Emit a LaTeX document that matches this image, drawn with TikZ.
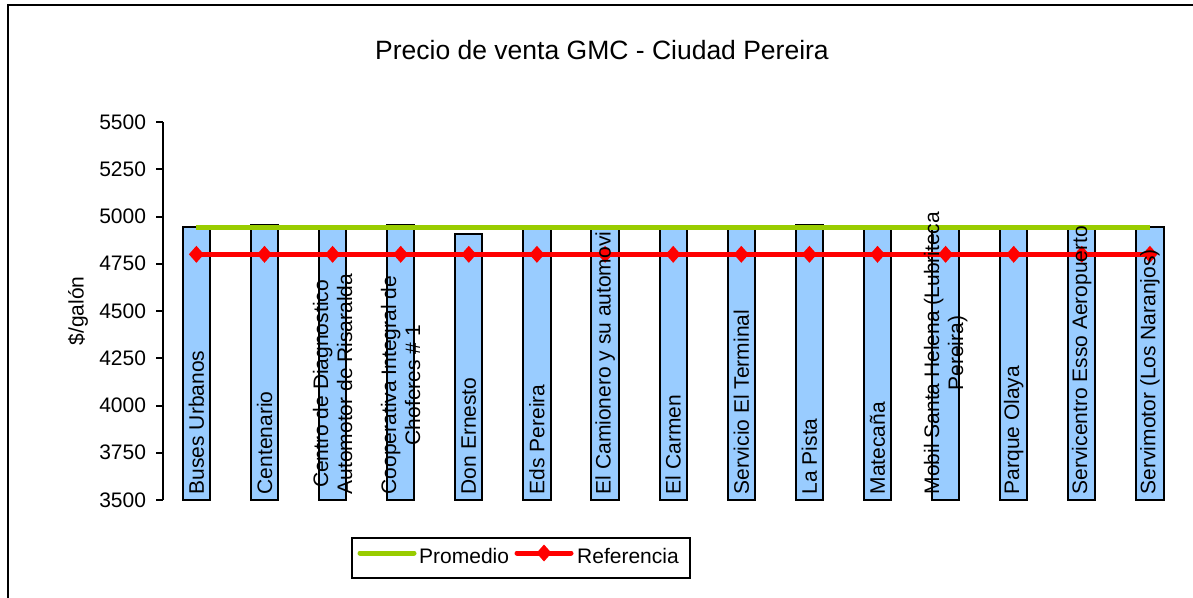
\documentclass[tikz,border=0pt]{standalone}
\usepackage{fontspec}
\setmainfont{Liberation Sans}
\usetikzlibrary{plotmarks}

\definecolor{barBlue}{HTML}{99CCFF}
\definecolor{promGreen}{HTML}{99CC00}
\definecolor{refRed}{HTML}{FF0000}

\def \lblFont {\fontsize{21}{24}\selectfont}
\def \titleFont {\fontsize{26.5}{30}\selectfont}
\def \halfBar {13.65}

\pgfdeclareplotmark{refdiamond}{%
  \pgfpathmoveto{\pgfqpoint{0pt}{8.5pt}}%
  \pgfpathlineto{\pgfqpoint{7.5pt}{0pt}}%
  \pgfpathlineto{\pgfqpoint{0pt}{-8.5pt}}%
  \pgfpathlineto{\pgfqpoint{-7.5pt}{0pt}}%
  \pgfpathclose
  \pgfusepathqfill}

\tikzset{
  bar/.style={fill=barBlue, draw=black, line width=2pt},
  barlabel/.style={rotate=90, anchor=west, align=center, inner sep=0pt, font=\lblFont},
  ticklabel/.style={anchor=east, inner sep=0pt, font=\lblFont},
  promedio/.style={promGreen, line width=5pt},
  referencia/.style={refRed, line width=5pt},
  refmark/.style={mark=refdiamond, mark options={fill=refRed}},
  declare function={yv(\v)=500-(\v-3500)*0.189;}
}

\begin{document}
\begin{tikzpicture}[x=1pt, y=-1pt]
         \useasboundingbox (0,0) rectangle (1193,597);
         \draw[line width=2pt] (8,610) -- (8,5) -- (1200,5);

         % title
         \node[anchor=base, inner sep=0pt, font=\titleFont] (title) at (602,59) {Precio de venta GMC - Ciudad Pereira};

         % value axis
         \draw[line width=2pt] (163,{yv(3500)}) -- (163,{yv(5500)});
         \draw[line width=2pt] (156,{yv(3500)}) -- (163,{yv(3500)}) node[ticklabel, at start, xshift=-9pt] (t3500) {3500};
         \draw[line width=2pt] (156,{yv(3750)}) -- (163,{yv(3750)}) node[ticklabel, at start, xshift=-9pt] (t3750) {3750};
         \draw[line width=2pt] (156,{yv(4000)}) -- (163,{yv(4000)}) node[ticklabel, at start, xshift=-9pt] (t4000) {4000};
         \draw[line width=2pt] (156,{yv(4250)}) -- (163,{yv(4250)}) node[ticklabel, at start, xshift=-9pt] (t4250) {4250};
         \draw[line width=2pt] (156,{yv(4500)}) -- (163,{yv(4500)}) node[ticklabel, at start, xshift=-9pt] (t4500) {4500};
         \draw[line width=2pt] (156,{yv(4750)}) -- (163,{yv(4750)}) node[ticklabel, at start, xshift=-9pt] (t4750) {4750};
         \draw[line width=2pt] (156,{yv(5000)}) -- (163,{yv(5000)}) node[ticklabel, at start, xshift=-9pt] (t5000) {5000};
         \draw[line width=2pt] (156,{yv(5250)}) -- (163,{yv(5250)}) node[ticklabel, at start, xshift=-9pt] (t5250) {5250};
         \draw[line width=2pt] (156,{yv(5500)}) -- (163,{yv(5500)}) node[ticklabel, at start, xshift=-9pt] (t5500) {5500};
         \node[rotate=90, font=\lblFont] (ylabel) at (78,311) {\$/galón};

         % bars
         \filldraw[bar] ({196.4-\halfBar},500) rectangle ({196.4+\halfBar},{yv(4944)});
         \filldraw[bar] ({264.5-\halfBar},500) rectangle ({264.5+\halfBar},{yv(4956)});
         \filldraw[bar] ({332.6-\halfBar},500) rectangle ({332.6+\halfBar},{yv(4936)});
         \filldraw[bar] ({400.7-\halfBar},500) rectangle ({400.7+\halfBar},{yv(4954)});
         \filldraw[bar] ({468.8-\halfBar},500) rectangle ({468.8+\halfBar},{yv(4906)});
         \filldraw[bar] ({536.9-\halfBar},500) rectangle ({536.9+\halfBar},{yv(4940)});
         \filldraw[bar] ({605.1-\halfBar},500) rectangle ({605.1+\halfBar},{yv(4940)});
         \filldraw[bar] ({673.2-\halfBar},500) rectangle ({673.2+\halfBar},{yv(4940)});
         \filldraw[bar] ({741.3-\halfBar},500) rectangle ({741.3+\halfBar},{yv(4940)});
         \filldraw[bar] ({809.4-\halfBar},500) rectangle ({809.4+\halfBar},{yv(4954)});
         \filldraw[bar] ({877.5-\halfBar},500) rectangle ({877.5+\halfBar},{yv(4952)});
         \filldraw[bar] ({945.6-\halfBar},500) rectangle ({945.6+\halfBar},{yv(4952)});
         \filldraw[bar] ({1013.7-\halfBar},500) rectangle ({1013.7+\halfBar},{yv(4952)});
         \filldraw[bar] ({1081.8-\halfBar},500) rectangle ({1081.8+\halfBar},{yv(4952)});
         \filldraw[bar] ({1149.9-\halfBar},500) rectangle ({1149.9+\halfBar},{yv(4944)});

         % series
         \draw[promedio] (196.4,{yv(4943)}) -- (1149.9,{yv(4943)});
         \draw[referencia, refmark] plot coordinates {(196.4,{yv(4800)}) (264.5,{yv(4800)}) (332.6,{yv(4800)}) (400.7,{yv(4800)}) (468.8,{yv(4800)}) (536.9,{yv(4800)}) (605.1,{yv(4800)}) (673.2,{yv(4800)}) (741.3,{yv(4800)}) (809.4,{yv(4800)}) (877.5,{yv(4800)}) (945.6,{yv(4800)}) (1013.7,{yv(4800)}) (1081.8,{yv(4800)}) (1149.9,{yv(4800)})};

         % category labels
         \node[barlabel] (buses) at (196.4,494.5) {Buses Urbanos};
         \node[barlabel] (centenario) at (264.5,494.5) {Centenario};
         \node[barlabel] (centro) at (332.6,494.5) {Centro de Diagnostico\\Automotor de Risaralda};
         \node[barlabel] (cooperativa) at (400.7,494.5) {Cooperativa Integral de\\Choferes \# 1};
         \node[barlabel] (ernesto) at (468.8,494.5) {Don Ernesto};
         \node[barlabel] (eds) at (536.9,494.5) {Eds Pereira};
         \node[barlabel] (camionero) at (605.1,494.5) {El Camionero y su automovi};
         \node[barlabel] (carmen) at (673.2,494.5) {El Carmen};
         \node[barlabel] (terminal) at (741.3,494.5) {Servicio El Terminal};
         \node[barlabel] (pista) at (809.4,494.5) {La Pista};
         \node[barlabel] (matecana) at (877.5,494.5) {Matecaña};
         \node[barlabel] (mobil) at (945.6,494.5) {Mobil Santa Helena (Lubriteca\\Pereira)};
         \node[barlabel] (olaya) at (1013.7,494.5) {Parque Olaya};
         \node[barlabel] (esso) at (1081.8,494.5) {Servicentro Esso Aeropuerto};
         \node[barlabel] (servimotor) at (1149.9,494.5) {Servimotor (Los Naranjos)};

         % legend
         \draw[line width=2pt] (352,538) rectangle (690,578);
         \draw[promedio, line cap=round] (360,553) -- (414,553);
         \node[anchor=base west, inner sep=0pt, font=\lblFont] (legprom) at (419,563) {Promedio};
         \draw[referencia, line cap=round, refmark, mark indices={2}] plot coordinates {(517,553) (544,553) (571,553)};
         \node[anchor=base west, inner sep=0pt, font=\lblFont] (legref) at (577,563) {Referencia};
      \end{tikzpicture}
\end{document}
